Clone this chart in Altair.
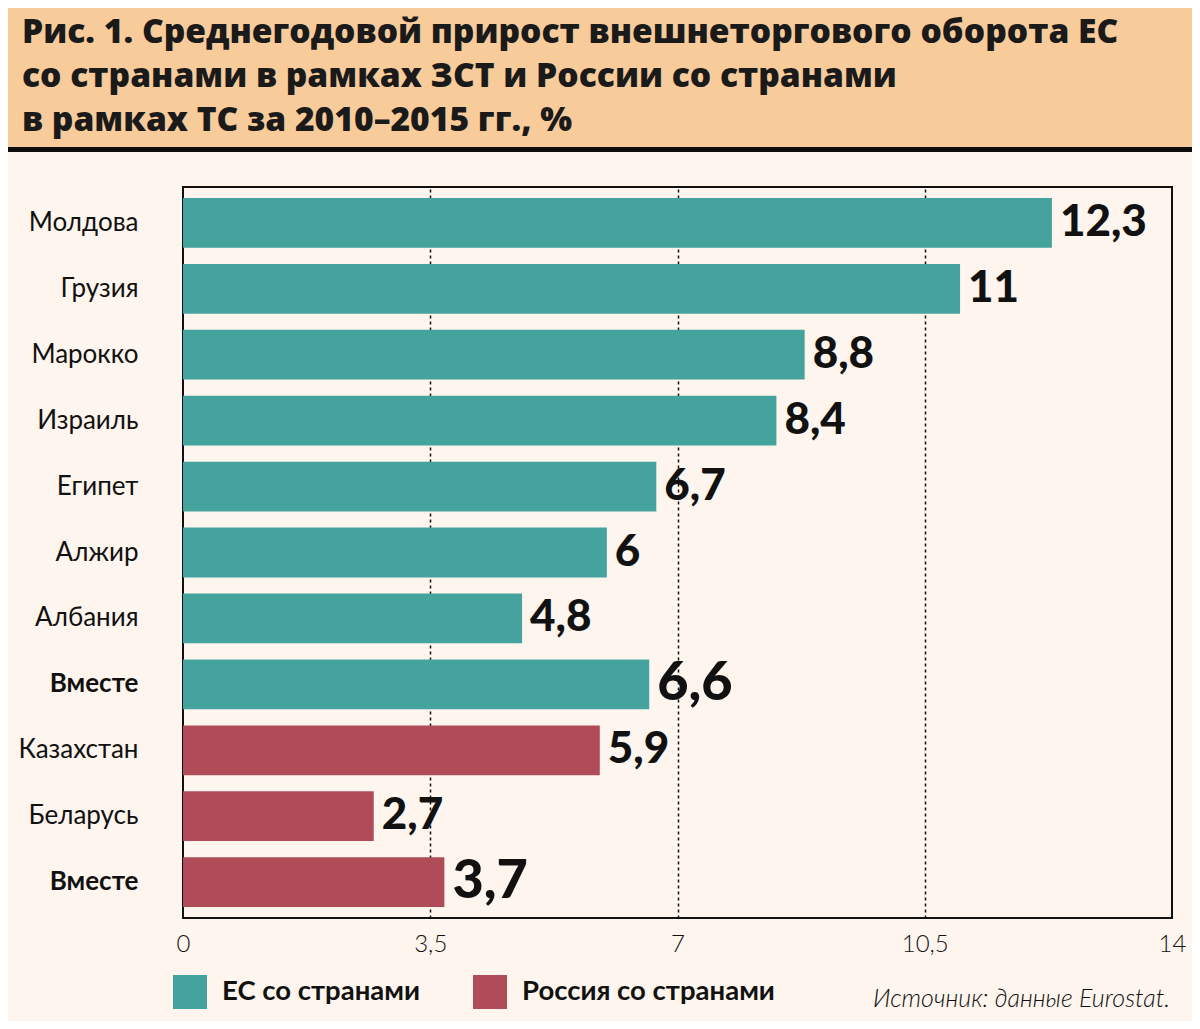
import altair as alt
import pandas as pd

# ---- data ----
categories = ["Молдова", "Грузия", "Марокко", "Израиль", "Египет", "Алжир",
              "Албания", "Вместе|ЕС", "Казахстан", "Беларусь", "Вместе|ТС"]
values = [12.3, 11, 8.8, 8.4, 6.7, 6, 4.8, 6.6, 5.9, 2.7, 3.7]
groups = ["ЕС со странами"] * 8 + ["Россия со странами"] * 3
group_names = ["ЕС со странами", "Россия со странами"]
x_ticks = [0, 3.5, 7, 10.5, 14]
title_lines = ["Рис. 1. Среднегодовой прирост внешнеторгового оборота ЕС",
               "со странами в рамках ЗСТ и России со странами",
               "в рамках ТС за 2010–2015 гг., %"]
source_text = "Источник: данные Eurostat."

df = pd.DataFrame({
    "cat": categories,
    "value": values,
    "group": groups,
    "total": [c.startswith("Вместе") for c in categories],
    "label": [f"{v:g}".replace(".", ",") for v in values],
})

TEAL = "#45A39E"
RED = "#B04B58"
BG = "#FDF5EE"
HEADER = "#F8CB9A"
INK = "#111111"

W, H = 989, 731
PAD_L, PAD_T = 175, 179
PAD_R = 1184 - PAD_L - W
PAD_B = 1013 - PAD_T - H

y_enc = alt.Y(
    "cat:N", sort=categories,
    scale=alt.Scale(paddingInner=0.245, paddingOuter=0.166),
    axis=alt.Axis(
        title=None, domain=False, ticks=False, labelPadding=45,
        labelExpr="split(datum.label, '|')[0]",
        labelFont="Lato", labelFontSize=26, labelColor=INK, labelLimit=300,
        labelFontWeight={"condition": {"test": "split(datum.value, '|')[0] == 'Вместе'", "value": "bold"},
                         "value": "normal"},
        labelAlign="right",
    ),
)
x_scale = alt.Scale(domain=[0, 14], nice=False, zero=True)

base = alt.Chart(df)

bars = base.mark_bar().encode(
    x=alt.X("value:Q", scale=x_scale,
            axis=alt.Axis(title=None, values=x_ticks, domain=False, ticks=False,
                          grid=True, gridColor="#111111", gridDash=[3, 3], gridWidth=1.5,
                          gridOpacity={"condition": {"test": "datum.value > 0 && datum.value < 14", "value": 1},
                                       "value": 0},
                          labelExpr="replace(format(datum.value, '~g'), '.', ',')",
                          labelFont="Lato", labelFontSize=24, labelFontWeight=300,
                          labelColor=INK, labelPadding=14, labelFlush=False)),
    y=y_enc,
    color=alt.Color("group:N", scale=alt.Scale(domain=group_names, range=[TEAL, RED]),
                    legend=alt.Legend(title=None, orient="none", legendX=-10, legendY=788,
                                      direction="horizontal", symbolType="square",
                                      symbolSize=1156, symbolStrokeWidth=0, symbolOpacity=1,
                                      labelFont="Lato", labelFontSize=27.5, labelFontWeight="bold",
                                      labelColor=INK, labelOffset=15, columnPadding=52,
                                      labelLimit=400, padding=0)),
)

labels = base.mark_text(align="left", baseline="middle", dx=8, font="Lato",
                        fontWeight=900, color=INK).encode(
    x=alt.X("value:Q", scale=x_scale),
    y=alt.Y("cat:N", sort=categories),
    text="label:N",
    size=alt.condition("datum.total", alt.value(54), alt.value(44)),
)

one = alt.Data(values=[{"k": 1}])

header = alt.Chart(one).mark_rect(color=HEADER).encode(
    x=alt.value(-PAD_L - 8), x2=alt.value(W + PAD_R + 8),
    y=alt.value(-PAD_T - 8), y2=alt.value(-40),
)
header_line = alt.Chart(one).mark_rect(color="#0d0d0d").encode(
    x=alt.value(-PAD_L - 8), x2=alt.value(W + PAD_R + 8),
    y=alt.value(-40), y2=alt.value(-35),
)
title = alt.Chart(one).mark_text(
    align="left", baseline="alphabetic", font="Open Sans", fontWeight=800,
    fontSize=33.6, color="#1a1a1a", lineBreak="\n", lineHeight=44,
).encode(
    x=alt.value(-161), y=alt.value(-144),
    text=alt.value("\n".join(title_lines)),
)
source = alt.Chart(one).mark_text(
    align="right", baseline="alphabetic", font="Lato", fontStyle="italic",
    fontWeight=300, fontSize=25, color=INK,
).encode(
    x=alt.value(987), y=alt.value(820), text=alt.value(source_text),
)

chart = alt.layer(header, header_line, title, bars, labels, source).properties(
    width=W, height=H,
    autosize=alt.AutoSizeParams(type="none"),
    padding={"left": PAD_L, "top": PAD_T, "right": PAD_R, "bottom": PAD_B},
    background=BG,
).configure_view(stroke="#111111", strokeWidth=2).resolve_scale(y="shared")

chart.save("out.html", embed_options={"renderer": "svg", "actions": False})
